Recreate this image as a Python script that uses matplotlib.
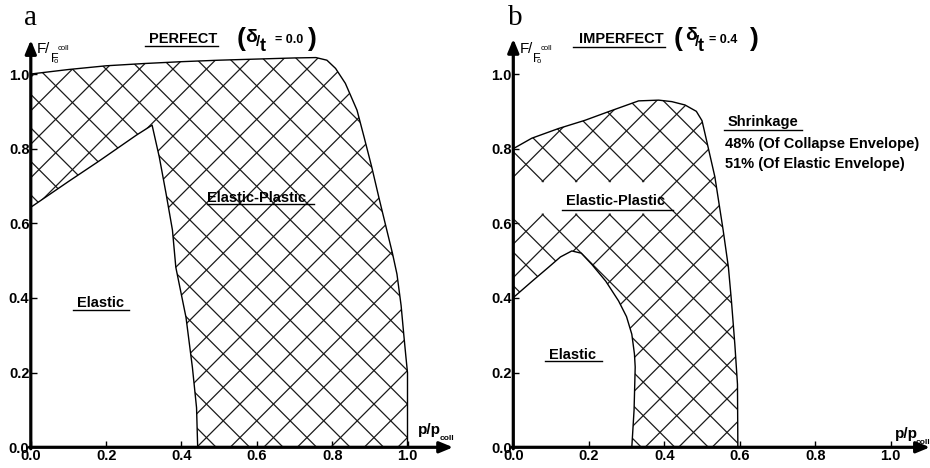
import numpy as np
import matplotlib
matplotlib.use("Agg")
import matplotlib.pyplot as plt
from matplotlib.patches import Polygon

# ---------------- data ----------------
# panel a : perfect (delta/t = 0.0)
a_collapse_x = [0.0, 0.1, 0.2, 0.3, 0.4, 0.5, 0.6, 0.7, 0.757, 0.786, 0.809, 0.835,
                0.866, 0.885, 0.905, 0.925, 0.945, 0.96, 0.972, 0.983, 0.99, 0.996, 1.0, 1.0]
a_collapse_y = [1.0, 1.012, 1.022, 1.028, 1.033, 1.037, 1.04, 1.043, 1.044, 1.037, 1.015, 0.975,
                0.903, 0.83, 0.751, 0.665, 0.582, 0.52, 0.464, 0.38, 0.303, 0.24, 0.2, 0.0]
a_elastic_x = [0.0, 0.1, 0.18, 0.28, 0.322, 0.341, 0.359, 0.376, 0.385, 0.412, 0.429, 0.44, 0.443]
a_elastic_y = [0.643, 0.712, 0.766, 0.836, 0.863, 0.778, 0.68, 0.582, 0.482, 0.348, 0.214, 0.106, 0.0]

# panel b : imperfect (delta/t = 0.4)
b_collapse_x = [0.0, 0.049, 0.12, 0.19, 0.252, 0.332, 0.385, 0.42, 0.455, 0.485, 0.5, 0.508,
                0.534, 0.556, 0.57, 0.578, 0.587, 0.594, 0.595]
b_collapse_y = [0.80, 0.828, 0.854, 0.876, 0.899, 0.928, 0.930, 0.926, 0.917, 0.9, 0.875, 0.84,
                0.725, 0.582, 0.482, 0.392, 0.276, 0.169, 0.0]
b_elastic_x = [0.0, 0.05, 0.093, 0.125, 0.155, 0.18, 0.208, 0.245, 0.279, 0.3, 0.314, 0.321,
               0.323, 0.32, 0.314]
b_elastic_y = [0.401, 0.445, 0.482, 0.51, 0.526, 0.52, 0.49, 0.445, 0.392, 0.35, 0.303, 0.25,
               0.215, 0.1, 0.0]

x_ticks = [0.0, 0.2, 0.4, 0.6, 0.8, 1.0]
y_ticks = [0.0, 0.2, 0.4, 0.6, 0.8, 1.0]
x_tick_labels = ["0.0", "0.2", "0.4", "0.6", "0.8", "1.0"]
y_tick_labels = ["0.0", "0.2", "0.4", "0.6", "0.8", "1.0"]

SANS = "Liberation Sans"
SERIF = "Liberation Serif"

W, H = 930, 468
fig = plt.figure(figsize=(W / 100, H / 100), dpi=100)

SY = 373.3          # px per unit (y)
Y0 = 447.3          # px from top of y = 0


def make_axes(x0px, sx, xmax, ymax):
    ax = fig.add_axes([x0px / W, (H - Y0) / H, xmax * sx / W, ymax * SY / H])
    ax.set_xlim(0, xmax)
    ax.set_ylim(0, ymax)
    for s in ax.spines.values():
        s.set_visible(False)
    ax.set_xticks(x_ticks)
    ax.set_xticklabels(x_tick_labels)
    ax.set_yticks(y_ticks)
    ax.set_yticklabels(y_tick_labels)
    ax.tick_params(axis="both", direction="in", length=4, width=1, colors="k",
                   labelsize=10.5)
    ax.tick_params(axis="x", pad=1.5)
    ax.tick_params(axis="y", pad=1.0)
    for lab in ax.get_xticklabels() + ax.get_yticklabels():
        lab.set_fontfamily(SANS)
        lab.set_fontweight("bold")
    return ax


def axis_arrows(ax, xtip, ytip):
    kw = dict(arrowstyle="-|>,head_length=0.8,head_width=0.33", lw=2.3, color="k",
              shrinkA=0, shrinkB=0)
    ax.annotate("", xy=(xtip, 0), xytext=(-0.004, 0), arrowprops=kw,
                annotation_clip=False, zorder=10)
    ax.annotate("", xy=(0, ytip), xytext=(0, -0.004), arrowprops=kw,
                annotation_clip=False, zorder=10)


def region(ax, cx, cy, ex, ey):
    xs = list(cx) + list(ex[::-1])
    ys = list(cy) + list(ey[::-1])
    poly = Polygon(np.column_stack([xs, ys]), closed=True, facecolor="none",
                   edgecolor="none")
    ax.add_patch(poly)
    ax.plot(cx, cy, color="k", lw=1.0, zorder=5)
    ax.plot(ex, ey, color="k", lw=1.0, zorder=5)
    return poly


def crosshatch(ax, clip, xref, yref, sx):
    k = sx / SY                 # slope of a 45 degree line in data units
    step = 33.5 / SY            # vertical spacing between parallel lines
    xs = np.array([-0.3, 1.5])
    for sgn in (1, -1):
        b0 = yref - sgn * k * xref
        for n in range(-40, 41):
            ln, = ax.plot(xs, sgn * k * xs + b0 + n * step, color="#1a1a1a",
                          lw=0.9, zorder=2)
            ln.set_clip_path(clip)


def txt(ax, x, y, s, size=10.5, weight="bold", family=SANS, **kw):
    kw.setdefault("ha", "left")
    kw.setdefault("va", "baseline")
    ax.text(x, y, s, fontsize=size, fontweight=weight, family=family,
            clip_on=False, zorder=12, **kw)


def uline(ax, x1, x2, y):
    ax.plot([x1, x2], [y, y], color="k", lw=1.0, clip_on=False, zorder=12)


def ylab(ax):
    txt(ax, 0.016, 1.057, "F", size=11, weight="normal")
    txt(ax, 0.039, 1.057, "/", size=11, weight="normal")
    txt(ax, 0.053, 1.031, "F", size=9, weight="normal")
    txt(ax, 0.061, 1.029, "o", size=5.5, weight="normal")
    txt(ax, 0.072, 1.064, "coll", size=5.5, weight="normal")


def xlab(ax, x, y):
    txt(ax, x, y, "p/p", size=11)
    txt(ax, x + 0.056, y - 0.016, "coll", size=6)


# ---------------- panel a ----------------
sxa = 376.7
axa = make_axes(30.8, sxa, 1.15, 1.12)
pa = region(axa, a_collapse_x, a_collapse_y, a_elastic_x, a_elastic_y)
crosshatch(axa, pa, 0.5997, 0.1607, sxa)
axis_arrows(axa, 1.121, 1.091)
ylab(axa)
xlab(axa, 1.028, 0.036)
txt(axa, -0.017, 1.131, "a", size=21, weight="normal", family=SERIF)
txt(axa, 0.404, 1.083, "PERFECT", size=10.5, ha="center")
uline(axa, 0.303, 0.497, 1.074)
txt(axa, 0.558, 1.095, "(", size=19, ha="center", va="center")
txt(axa, 0.586, 1.099, "δ", size=14, ha="center", va="center")
txt(axa, 0.603, 1.086, "/", size=11, ha="center", va="center")
txt(axa, 0.617, 1.075, "t", size=13, ha="center", va="center")
txt(axa, 0.687, 1.092, "= 0.0", size=9, ha="center", va="center")
txt(axa, 0.748, 1.095, ")", size=19, ha="center", va="center")
txt(axa, 0.600, 0.657, "Elastic-Plastic", ha="center")
uline(axa, 0.468, 0.752, 0.652)
txt(axa, 0.184, 0.376, "Elastic", ha="center")
uline(axa, 0.112, 0.260, 0.367)

# ---------------- panel b ----------------
sxb = 377.4
axb = make_axes(513.3, sxb, 1.105, 1.12)
pb = region(axb, b_collapse_x, b_collapse_y, b_elastic_x, b_elastic_y)
crosshatch(axb, pb, 0.2555, 0.713, sxb)

# blank strip of diamonds behind the "Elastic-Plastic" label
hx, vy = 33.5 / sxb, 33.5 / SY
xv, yv = 0.2555, 0.713
d = 0.005
top, bot = [], []
for i in range(-4, 2):
    top += [(xv + i * hx, yv - d), (xv + i * hx + hx / 2, yv + vy / 2 - d)]
right = [(xv + 2 * hx - d, yv), (xv + 1.5 * hx - d, yv - vy / 2),
         (xv + 2 * hx - d, yv - vy), (xv + 1.5 * hx, yv - 1.5 * vy + d)]
for i in range(1, -5, -1):
    bot += [(xv + i * hx, yv - vy + d), (xv + i * hx - hx / 2, yv - 1.5 * vy + d)]
band = Polygon(top + right + bot, closed=True, facecolor="white", edgecolor="none",
               zorder=3)
axb.add_patch(band)
band.set_clip_path(pb)

axis_arrows(axb, 1.104, 1.094)
ylab(axb)
xlab(axb, 1.011, 0.025)
txt(axb, -0.015, 1.131, "b", size=21, weight="normal", family=SERIF)
txt(axb, 0.286, 1.083, "IMPERFECT", size=10.5, ha="center")
uline(axb, 0.158, 0.402, 1.072)
txt(axb, 0.437, 1.095, "(", size=19, ha="center", va="center")
txt(axb, 0.470, 1.102, "δ", size=14, ha="center", va="center")
txt(axb, 0.486, 1.086, "/", size=11, ha="center", va="center")
txt(axb, 0.497, 1.073, "t", size=13, ha="center", va="center")
txt(axb, 0.555, 1.092, "= 0.4", size=9, ha="center", va="center")
txt(axb, 0.640, 1.095, ")", size=19, ha="center", va="center")
txt(axb, 0.272, 0.649, "Elastic-Plastic", ha="center")
uline(axb, 0.129, 0.423, 0.636)
txt(axb, 0.158, 0.237, "Elastic", ha="center")
uline(axb, 0.084, 0.235, 0.230)
txt(axb, 0.569, 0.861, "Shrinkage")
uline(axb, 0.558, 0.765, 0.850)
txt(axb, 0.561, 0.801, "48% (Of Collapse Envelope)")
txt(axb, 0.561, 0.748, "51% (Of Elastic Envelope)")

fig.savefig("out.png", dpi=100, facecolor="white")
